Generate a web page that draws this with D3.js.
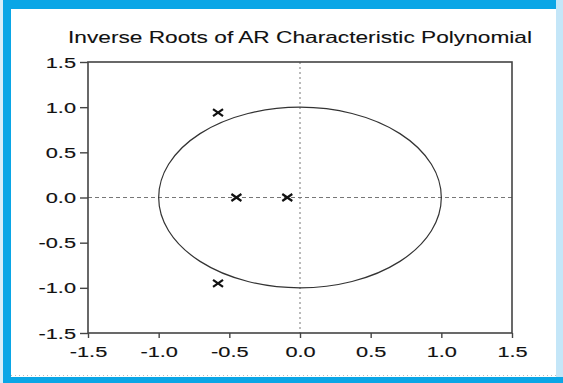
<!DOCTYPE html>
<html><head><meta charset="utf-8">
<script src="https://cdn.jsdelivr.net/npm/d3@7"></script>
<style>html,body{margin:0;padding:0;background:#fff;}svg{display:block;}</style>
</head><body>
<script>
const titleText = "Inverse Roots of AR Characteristic Polynomial";
const rootsRe = [-0.58, -0.58, -0.45, -0.09];
const rootsIm = [0.94, -0.95, 0.0, 0.0];
const xTicks = [-1.5, -1.0, -0.5, 0.0, 0.5, 1.0, 1.5];
const yTicks = [-1.5, -1.0, -0.5, 0.0, 0.5, 1.0, 1.5];
const domain = [-1.5, 1.5];

const W = 563, H = 383;
const svg = d3.select("body").append("svg").attr("width", W).attr("height", H);

// outer frame
svg.append("rect").attr("x",0).attr("y",0).attr("width",W).attr("height",H).attr("fill","#0aa6e6");
svg.append("rect").attr("x",0).attr("y",0).attr("width",3).attr("height",H).attr("fill","#d8eef9");
svg.append("rect").attr("x",556).attr("y",0).attr("width",7).attr("height",377).attr("fill","#c4e6f8");
svg.append("rect").attr("x",11).attr("y",9).attr("width",545).attr("height",368).attr("fill","#fff");
svg.append("line").attr("x1",11).attr("x2",556).attr("y1",375.5).attr("y2",375.5)
  .attr("stroke","#bbb").attr("stroke-dasharray","1,3");

const L = 88, R = 512, T = 62, B = 333;
const x = d3.scaleLinear().domain(domain).range([L, R]);
const y = d3.scaleLinear().domain(domain).range([B, T]);
const stretch = 1.45;
const axisColor = "#444";

function stretchText(sel){
  sel.each(function(){
    const len = this.getComputedTextLength();
    d3.select(this).attr("textLength", len*stretch).attr("lengthAdjust","spacingAndGlyphs");
  });
}

// zero lines
svg.append("line").attr("x1",x(-1.5)).attr("x2",x(1.5)).attr("y1",y(0)).attr("y2",y(0))
  .attr("stroke","#777").attr("stroke-width",1).attr("stroke-dasharray","4,3");
svg.append("line").attr("x1",x(0)).attr("x2",x(0)).attr("y1",y(1.5)).attr("y2",y(-1.5))
  .attr("stroke","#777").attr("stroke-width",1).attr("stroke-dasharray","2,3");

// unit circle
svg.append("ellipse").attr("cx",x(0)).attr("cy",y(0))
  .attr("rx",x(1)-x(0)).attr("ry",y(0)-y(1))
  .attr("fill","none").attr("stroke","#333").attr("stroke-width",1.2);

// frame
svg.append("rect").attr("x",L).attr("y",T).attr("width",R-L).attr("height",B-T)
  .attr("fill","none").attr("stroke",axisColor).attr("stroke-width",1.6);

// axes
const xAxis = svg.append("g").attr("transform",`translate(0,${B})`)
  .call(d3.axisBottom(x).tickValues(xTicks).tickFormat(d3.format(".1f")).tickSize(5).tickPadding(8));
const yAxis = svg.append("g").attr("transform",`translate(${L},0)`)
  .call(d3.axisLeft(y).tickValues(yTicks).tickFormat(d3.format(".1f")).tickSize(8).tickPadding(4));
[xAxis, yAxis].forEach(g=>{
  g.select(".domain").remove();
  g.selectAll(".tick line").attr("stroke",axisColor).attr("stroke-width",1.4);
  g.selectAll(".tick text").attr("fill","#111").attr("stroke","#111").attr("stroke-width",0.15)
    .attr("font-family","Arial, 'Liberation Sans', sans-serif")
    .attr("font-size",15).text(d=>d3.format(".1f")(d).replace("−","-"));
});
xAxis.selectAll(".tick text").attr("dy","0.71em").call(stretchText);
yAxis.selectAll(".tick text").attr("dy","0.34em").call(stretchText);

// roots
const pts = rootsRe.map((r,i)=>({re:r, im:rootsIm[i]}));
const mk = svg.append("g").selectAll("g").data(pts).join("g")
  .attr("transform",d=>`translate(${x(d.re)},${y(d.im)})`);
mk.append("path").attr("d","M-5,-3.5L5,3.5M-5,3.5L5,-3.5")
  .attr("stroke","#111").attr("stroke-width",2.2).attr("fill","none");

// title
svg.append("text").attr("x",68).attr("y",43).attr("font-family","Arial, 'Liberation Sans', sans-serif")
  .attr("font-size",16.5).attr("fill","#111").attr("stroke","#111").attr("stroke-width",0.1).text(titleText)
  .attr("textLength",464).attr("lengthAdjust","spacingAndGlyphs");
</script>
</body></html>
